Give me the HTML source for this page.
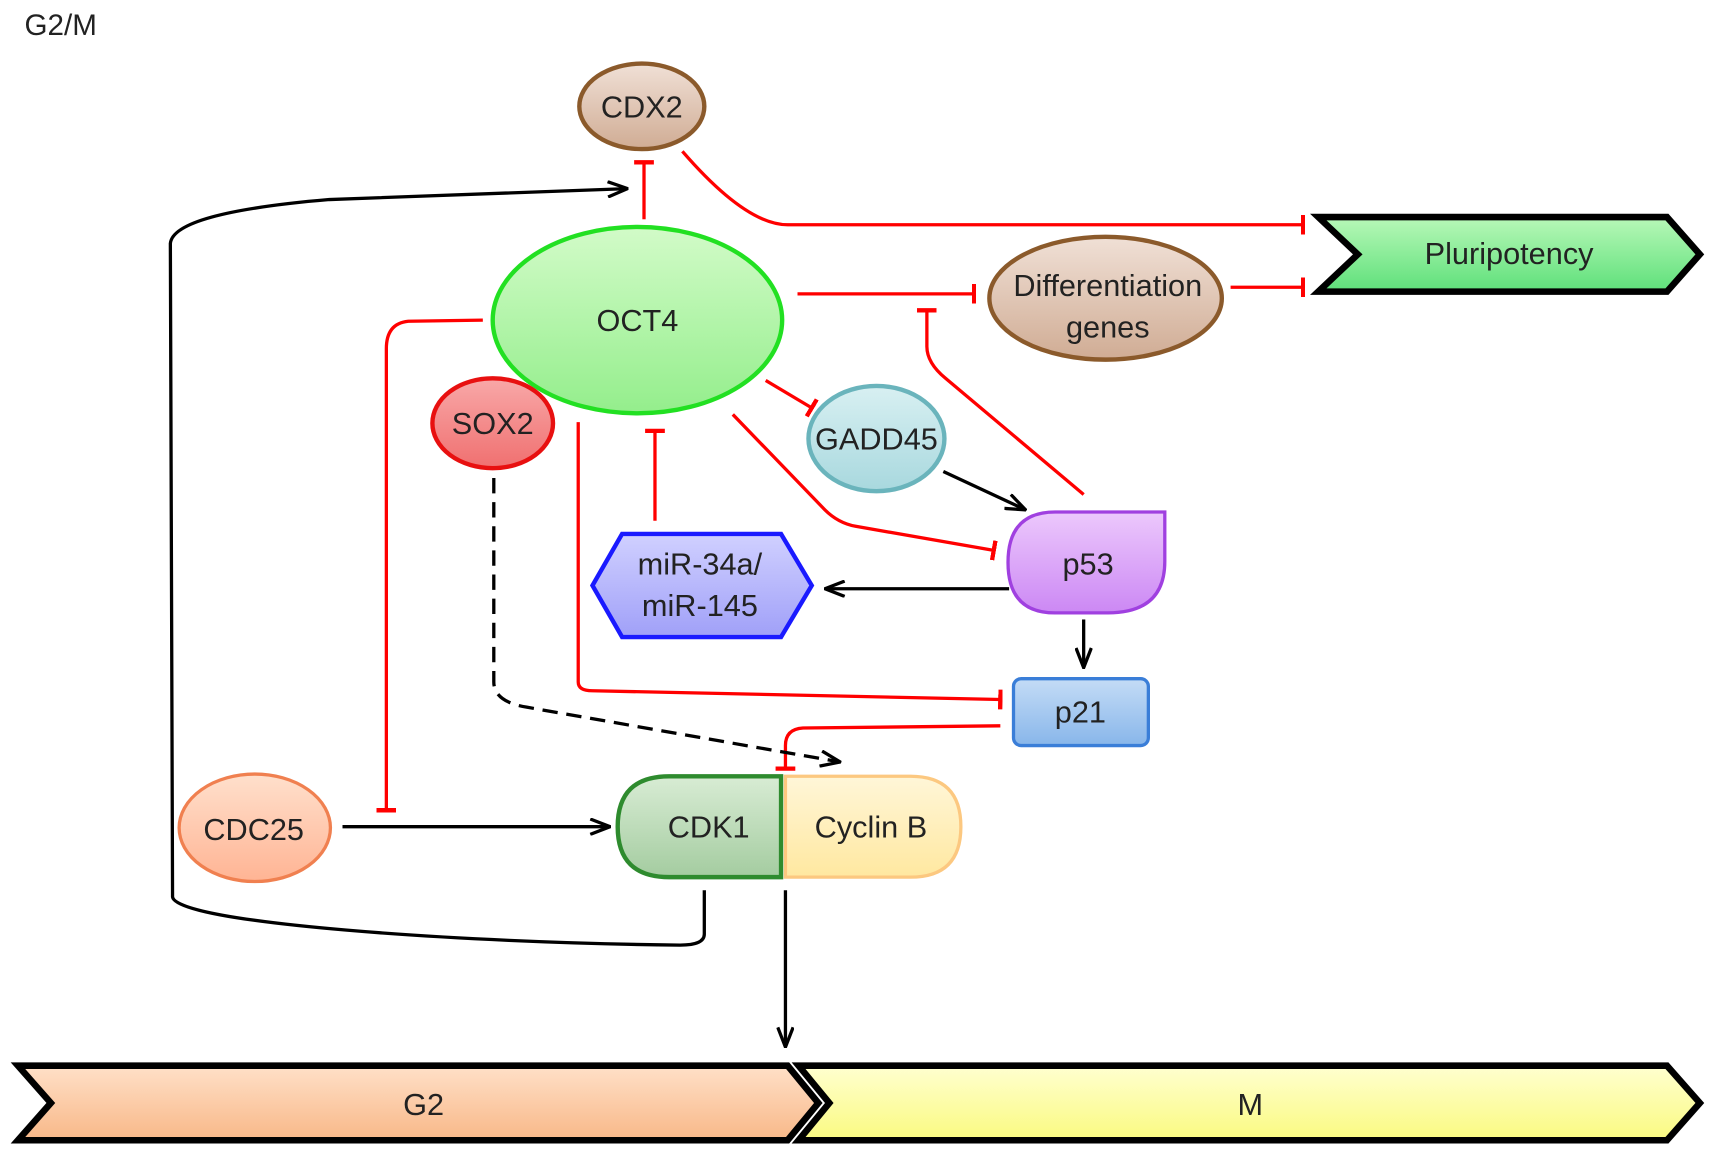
<!DOCTYPE html>
<html><head><meta charset="utf-8"><style>html,body{margin:0;padding:0;background:#fff}svg{display:block}</style></head>
<body>
<svg width="1720" height="1160" viewBox="0 0 1568 1058" xmlns="http://www.w3.org/2000/svg" font-family="Liberation Sans, Arial, sans-serif">
<defs>
<linearGradient id="gBrown" x1="0" y1="0" x2="0" y2="1"><stop offset="0" stop-color="#f0e0d6"/><stop offset="1" stop-color="#d0ac94"/></linearGradient>
<linearGradient id="gGreen" x1="0" y1="0" x2="0" y2="1"><stop offset="0" stop-color="#d2fbc8"/><stop offset="1" stop-color="#94ee8c"/></linearGradient>
<linearGradient id="gRed" x1="0" y1="0" x2="0" y2="1"><stop offset="0" stop-color="#f8a8a8"/><stop offset="1" stop-color="#f07070"/></linearGradient>
<linearGradient id="gTeal" x1="0" y1="0" x2="0" y2="1"><stop offset="0" stop-color="#d8f0f2"/><stop offset="1" stop-color="#a8d8de"/></linearGradient>
<linearGradient id="gPurp" x1="0" y1="0" x2="0" y2="1"><stop offset="0" stop-color="#ecc8fc"/><stop offset="1" stop-color="#cc88f4"/></linearGradient>
<linearGradient id="gBlue" x1="0" y1="0" x2="0" y2="1"><stop offset="0" stop-color="#d0d0ff"/><stop offset="1" stop-color="#a0a0f8"/></linearGradient>
<linearGradient id="gP21" x1="0" y1="0" x2="0" y2="1"><stop offset="0" stop-color="#c4dcf6"/><stop offset="1" stop-color="#88b6ea"/></linearGradient>
<linearGradient id="gCdk" x1="0" y1="0" x2="0" y2="1"><stop offset="0" stop-color="#d8ecd4"/><stop offset="1" stop-color="#a4cca0"/></linearGradient>
<linearGradient id="gCyc" x1="0" y1="0" x2="0" y2="1"><stop offset="0" stop-color="#fff6d8"/><stop offset="1" stop-color="#ffe8a0"/></linearGradient>
<linearGradient id="gCdc" x1="0" y1="0" x2="0" y2="1"><stop offset="0" stop-color="#ffe0cc"/><stop offset="1" stop-color="#ffb494"/></linearGradient>
<linearGradient id="gPluri" x1="0" y1="0" x2="0" y2="1"><stop offset="0" stop-color="#b8f8b8"/><stop offset="1" stop-color="#5ee07a"/></linearGradient>
<linearGradient id="gG2" x1="0" y1="0" x2="0" y2="1"><stop offset="0" stop-color="#ffe0c8"/><stop offset="1" stop-color="#f8b888"/></linearGradient>
<linearGradient id="gM" x1="0" y1="0" x2="0" y2="1"><stop offset="0" stop-color="#ffffd0"/><stop offset="1" stop-color="#fafa80"/></linearGradient>
<marker id="ar2" viewBox="0 0 20 16" refX="19" refY="8" markerWidth="20" markerHeight="16" markerUnits="userSpaceOnUse" orient="auto"><path d="M1,1 L19,8 L1,15" fill="none" stroke="#000" stroke-width="3"/></marker>
<marker id="bar" viewBox="0 0 4 18" refX="2" refY="9" markerWidth="4" markerHeight="18" markerUnits="userSpaceOnUse" orient="auto"><rect x="0" y="0" width="4" height="18" fill="#f00"/></marker>
</defs>

<text x="22" y="32" font-size="27" fill="#222">G2/M</text>

<g fill="none" stroke-width="3">
<path d="M642,812 L642,852 Q642,862 620,862 C420,860 160,842 157,818 L155,222 Q158,194 300,182 L572,172" stroke="#000" marker-end="url(#ar2)"/>
<path d="M587,200 L587,148" stroke="#f00" marker-end="url(#bar)"/>
<path d="M622,138 Q680,205 718,205 L1188,205" stroke="#f00" marker-end="url(#bar)"/>
<path d="M727,268 L888,268" stroke="#f00" marker-end="url(#bar)"/>
<path d="M1122,262 L1188,262" stroke="#f00" marker-end="url(#bar)"/>
<path d="M988,451 L862,345 Q845,331 845,316 L845,283" stroke="#f00" marker-end="url(#bar)"/>
<path d="M698,347 L740,372" stroke="#f00" marker-end="url(#bar)"/>
<path d="M860,430 L935,465" stroke="#000" marker-end="url(#ar2)"/>
<path d="M668,378 L752,465 Q764,477 780,480 L906,502" stroke="#f00" marker-end="url(#bar)"/>
<path d="M597,475 L597,393" stroke="#f00" marker-end="url(#bar)"/>
<path d="M920,537 L752,537" stroke="#000" marker-end="url(#ar2)"/>
<path d="M988,565 L988,609" stroke="#000" marker-end="url(#ar2)"/>
<path d="M527,385 L527,622 Q527,630 540,630 L912,638" stroke="#f00" marker-end="url(#bar)"/>
<path d="M912,662 L732,664 Q716,665 716,680 L716,701" stroke="#f00" marker-end="url(#bar)"/>
<path d="M450,436 L450,622 Q450,640 480,645 L766,695" stroke="#000" stroke-dasharray="14,8" marker-end="url(#ar2)"/>
<path d="M440,292 L372,293 Q352,295 352,318 L352,739" stroke="#f00" marker-end="url(#bar)"/>
<path d="M312,754 L556,754" stroke="#000" marker-end="url(#ar2)"/>
<path d="M716,812 L716,955" stroke="#000" marker-end="url(#ar2)"/>
</g>

<ellipse cx="585" cy="97" rx="57" ry="39" fill="url(#gBrown)" stroke="#8b5a2b" stroke-width="4"/>
<text x="585" y="107" font-size="28" text-anchor="middle" fill="#222">CDX2</text>

<ellipse cx="581" cy="292" rx="132" ry="85" fill="url(#gGreen)" stroke="#22e022" stroke-width="4"/>
<text x="581" y="302" font-size="28" text-anchor="middle" fill="#222">OCT4</text>

<ellipse cx="449" cy="386" rx="55" ry="41" fill="url(#gRed)" stroke="#e81010" stroke-width="4"/>
<text x="449" y="396" font-size="28" text-anchor="middle" fill="#222">SOX2</text>

<ellipse cx="799" cy="400" rx="62" ry="48" fill="url(#gTeal)" stroke="#6ab4bc" stroke-width="4"/>
<text x="799" y="410" font-size="28" text-anchor="middle" fill="#222">GADD45</text>

<ellipse cx="1008" cy="272" rx="106" ry="56" fill="url(#gBrown)" stroke="#8b5a2b" stroke-width="4"/>
<text x="1010" y="270" font-size="28" text-anchor="middle" fill="#222">Differentiation</text>
<text x="1010" y="308" font-size="28" text-anchor="middle" fill="#222">genes</text>

<polygon points="1202,198 1520,198 1550,232 1520,266 1202,266 1238,232" fill="url(#gPluri)" stroke="#000" stroke-width="6"/>
<text x="1376" y="241" font-size="28" text-anchor="middle" fill="#222">Pluripotency</text>

<path d="M962,467 L1062,467 L1062,512 Q1062,559 1010,559 L962,559 Q919,559 919,513 Q919,467 962,467 Z" fill="url(#gPurp)" stroke="#a040e0" stroke-width="3"/>
<text x="992" y="524" font-size="28" text-anchor="middle" fill="#222">p53</text>

<polygon points="540,534 567,487 712,487 740,534 712,581 567,581" fill="url(#gBlue)" stroke="#1a1aff" stroke-width="4"/>
<text x="638" y="524" font-size="28" text-anchor="middle" fill="#222">miR-34a/</text>
<text x="638" y="562" font-size="28" text-anchor="middle" fill="#222">miR-145</text>

<rect x="924" y="619" width="123" height="61" rx="7" fill="url(#gP21)" stroke="#3a7ed8" stroke-width="3"/>
<text x="985" y="659" font-size="28" text-anchor="middle" fill="#222">p21</text>

<path d="M712,708 L712,800 L610,800 Q563,800 563,754 Q563,708 610,708 Z" fill="url(#gCdk)" stroke="#2e8b2e" stroke-width="4"/>
<text x="646" y="764" font-size="28" text-anchor="middle" fill="#222">CDK1</text>
<path d="M716,708 L830,708 Q876,708 876,754 Q876,800 830,800 L716,800 Z" fill="url(#gCyc)" stroke="#fcc880" stroke-width="3"/>
<text x="794" y="764" font-size="28" text-anchor="middle" fill="#222">Cyclin B</text>

<ellipse cx="232" cy="755" rx="69" ry="49" fill="url(#gCdc)" stroke="#f08050" stroke-width="3"/>
<text x="231" y="766" font-size="28" text-anchor="middle" fill="#222">CDC25</text>

<polygon points="16,972 718,972 746,1006 718,1040 16,1040 46,1006" fill="url(#gG2)" stroke="#000" stroke-width="6"/>
<text x="386" y="1017" font-size="28" text-anchor="middle" fill="#222">G2</text>
<polygon points="728,972 1520,972 1550,1006 1520,1040 728,1040 756,1006" fill="url(#gM)" stroke="#000" stroke-width="6"/>
<text x="1140" y="1017" font-size="28" text-anchor="middle" fill="#222">M</text>
</svg>
</body></html>
